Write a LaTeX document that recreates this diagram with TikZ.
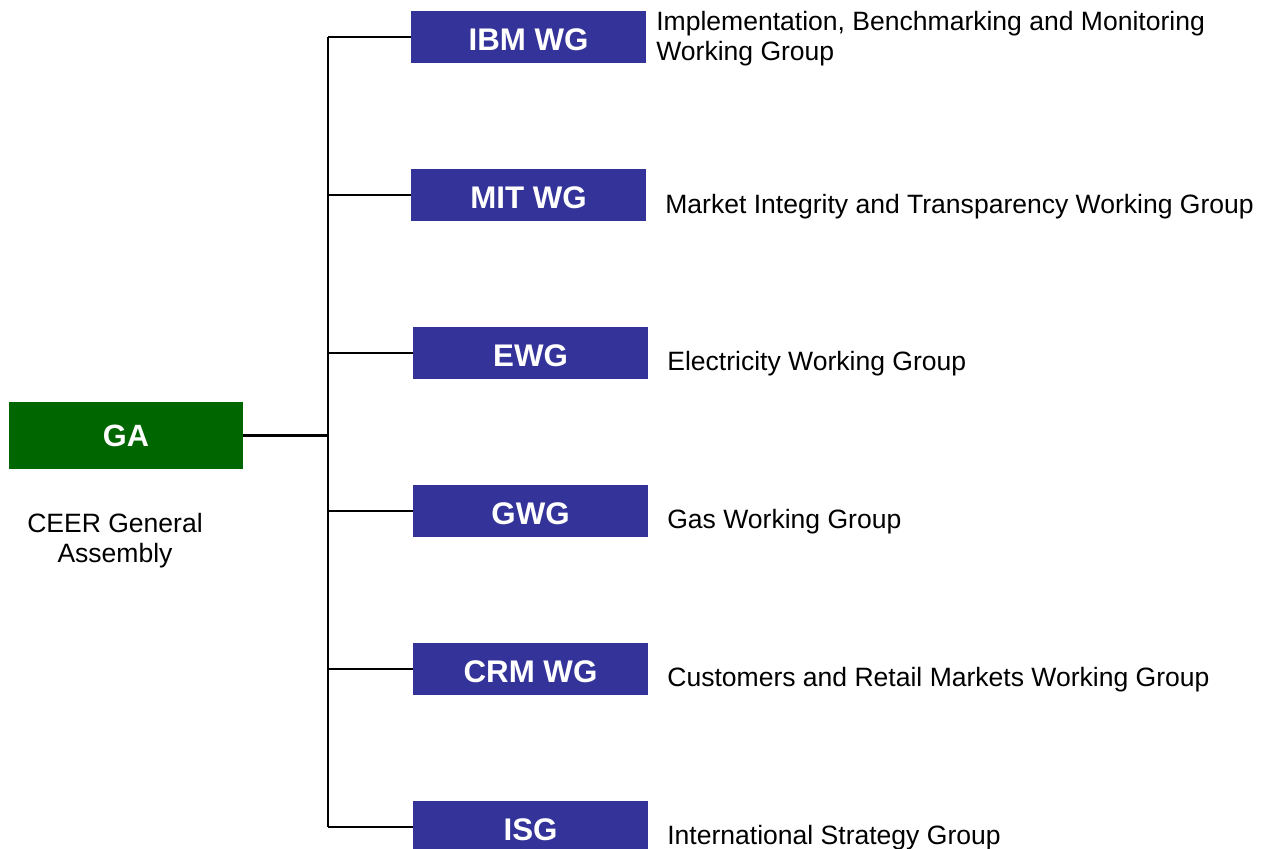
\documentclass[tikz,border=0pt]{standalone}
\usepackage{fontspec}
\setmainfont{Liberation Sans}
\usepackage{xcolor}
\usepackage{tikz}
\definecolor{gagreen}{HTML}{006600}
\definecolor{wgblue}{HTML}{333399}
\tikzstyle{gabox} = [fill=gagreen, text=white, font=\fontsize{17.5}{20}\selectfont\bfseries,
minimum width=4.68cm, minimum height=1.34cm, inner sep=0pt]
\tikzstyle{wgbox} = [fill=wgblue, text=white, font=\fontsize{17.8}{20}\selectfont\bfseries,
minimum width=4.7cm, minimum height=1.04cm, inner sep=0pt, text height=15.5pt, text depth=0pt]
\tikzstyle{desc} = [anchor=west, align=left, inner sep=0pt, font=\fontsize{15.1}{17}\selectfont]
\tikzstyle{link} = [draw=black, line width=1.1pt]

\begin{document}
\begin{tikzpicture}[x=0.02cm, y=-0.02cm]
        \useasboundingbox (0,0) rectangle (1272,849);
        % general assembly
        \node [gabox] (ga) at (126,435.5) {GA};
        \node [align=center, inner sep=0pt, font=\fontsize{15.1}{17}\selectfont] (gatext) at (115,541) {CEER General\\Assembly};
        % working groups
        \node [wgbox] (ibm) at (528.5,37) {IBM WG};
        \node [wgbox] (mit) at (528.5,195) {MIT WG};
        \node [wgbox] (ewg) at (530.5,353) {EWG};
        \node [wgbox] (gwg) at (530.5,511) {GWG};
        \node [wgbox] (crm) at (530.5,669) {CRM WG};
        \node [wgbox] (isg) at (530.5,827) {ISG};
        \node [desc] (ibmtext) at (656,39) {Implementation, Benchmarking and Monitoring\\Working Group};
        \node [desc] (mittext) at (665,207) {Market Integrity and Transparency Working Group};
        \node [desc] (ewgtext) at (667,364) {Electricity Working Group};
        \node [desc] (gwgtext) at (667,522) {Gas Working Group};
        \node [desc] (crmtext) at (667,680) {Customers and Retail Markets Working Group};
        \node [desc] (isgtext) at (667,838) {International Strategy Group};
        % tree
        \coordinate (join) at (328,435.5);
        \draw [link, line width=1.7pt] (ga.east) -- (join);
        \draw [link] (join |- ibm.west) -- (join |- isg.west);
        \foreach \wg in {ibm,mit,ewg,gwg,crm,isg}
            \draw [link] (join |- \wg.west) -- (\wg.west);
    \end{tikzpicture}
\end{document}
